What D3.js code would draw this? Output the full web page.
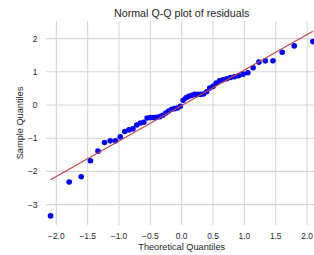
<!DOCTYPE html>
<html>
<head>
<meta charset="utf-8">
<script src="https://cdn.jsdelivr.net/npm/d3@7"></script>
<style>
  body { margin: 0; background: #fff; }
  text { font-family: "Liberation Sans", Arial, sans-serif; fill: #262626; }
</style>
</head>
<body>
<div id="chart"></div>
<script>

// theoretical quantiles (x) and sample quantiles (y)
var theoretical = [-2.093, -1.795, -1.603, -1.456, -1.335, -1.231, -1.140, -1.056, -0.980, -0.908,
  -0.842, -0.778, -0.718, -0.660, -0.605, -0.551, -0.499, -0.448, -0.398, -0.349,
  -0.301, -0.253, -0.207, -0.160, -0.114, -0.068, -0.023, 0.023, 0.068, 0.114,
  0.160, 0.207, 0.253, 0.301, 0.349, 0.398, 0.448, 0.499, 0.551, 0.605,
  0.660, 0.718, 0.778, 0.842, 0.908, 0.980, 1.056, 1.140, 1.231, 1.335,
  1.456, 1.603, 1.795, 2.093];
var sample = [-3.34, -2.32, -2.16, -1.68, -1.39, -1.13, -1.08, -1.08, -0.96, -0.80,
  -0.75, -0.72, -0.60, -0.54, -0.52, -0.39, -0.38, -0.38, -0.37, -0.35,
  -0.31, -0.24, -0.18, -0.13, -0.11, -0.09, -0.04, 0.14, 0.22, 0.26,
  0.29, 0.32, 0.32, 0.32, 0.33, 0.40, 0.51, 0.56, 0.66, 0.73,
  0.76, 0.79, 0.83, 0.85, 0.88, 0.93, 0.97, 1.12, 1.29, 1.33,
  1.33, 1.59, 1.78, 1.91];

// end points of the reference line
var lineX = [-2.093, 2.093];
var lineY = [-2.25, 2.22];

// tick values
var xTicks = [-2.0, -1.5, -1.0, -0.5, 0.0, 0.5, 1.0, 1.5, 2.0];
var yTicks = [-3, -2, -1, 0, 1, 2];

var W = 314, H = 255;
var margin = {top: 21, right: -3.4, bottom: 30, left: 46},
    width = W - margin.left - margin.right,
    height = H - margin.top - margin.bottom;

var x = d3.scaleLinear().domain([-2.165, 2.165]).range([0, width]);
var y = d3.scaleLinear().domain([-3.614, 2.53]).range([height, 0]);

var svg = d3.select("#chart").append("svg")
    .attr("width", W)
    .attr("height", H)
  .append("g")
    .attr("transform", "translate(" + margin.left + "," + margin.top + ")");

// grid lines
svg.append("g")
    .selectAll("line")
    .data(xTicks)
    .enter().append("line")
    .attr("x1", function(d) { return x(d); })
    .attr("x2", function(d) { return x(d); })
    .attr("y1", 0)
    .attr("y2", height)
    .attr("stroke", "#d6d6d6")
    .attr("stroke-width", 1.1);

svg.append("g")
    .selectAll("line")
    .data(yTicks)
    .enter().append("line")
    .attr("x1", 0)
    .attr("x2", width)
    .attr("y1", function(d) { return y(d); })
    .attr("y2", function(d) { return y(d); })
    .attr("stroke", "#d6d6d6")
    .attr("stroke-width", 1.1);

// tick labels
var fmtX = function(d) { return d3.format(".1f")(d).replace("-", "\u2212"); };
svg.append("g")
    .selectAll("text")
    .data(xTicks)
    .enter().append("text")
    .attr("x", function(d) { return x(d); })
    .attr("y", height + 13.5)
    .attr("text-anchor", "middle")
    .style("font-size", "8.4px")
    .text(fmtX);

svg.append("g")
    .selectAll("text")
    .data(yTicks)
    .enter().append("text")
    .attr("x", -8.5)
    .attr("y", function(d) { return y(d); })
    .attr("dy", "0.35em")
    .attr("text-anchor", "end")
    .style("font-size", "8.4px")
    .text(function(d) { return String(d).replace("-", "\u2212"); });

// the points
svg.append("g")
    .selectAll("circle")
    .data(theoretical)
    .enter().append("circle")
    .attr("cx", function(d) { return x(d); })
    .attr("cy", function(d, i) { return y(sample[i]); })
    .attr("r", 2.8)
    .attr("fill", "#0000ff");

// reference line
var refLine = d3.line()
    .x(function(d) { return x(d); })
    .y(function(d, i) { return y(lineY[i]); });

svg.append("path")
    .datum(lineX)
    .attr("d", refLine)
    .attr("fill", "none")
    .attr("stroke", "#c0474a")
    .attr("stroke-width", 1.2);

// title and axis labels
svg.append("text")
    .attr("x", width / 2)
    .attr("y", -4)
    .attr("text-anchor", "middle")
    .style("font-size", "10.7px")
    .text("Normal Q-Q plot of residuals");

svg.append("text")
    .attr("x", width / 2)
    .attr("y", height + 25)
    .attr("text-anchor", "middle")
    .style("font-size", "9.2px")
    .text("Theoretical Quantiles");

svg.append("text")
    .attr("transform", "rotate(-90)")
    .attr("x", -height / 2)
    .attr("y", -23)
    .attr("text-anchor", "middle")
    .style("font-size", "9.2px")
    .text("Sample Quantiles");

</script>
</body>
</html>
